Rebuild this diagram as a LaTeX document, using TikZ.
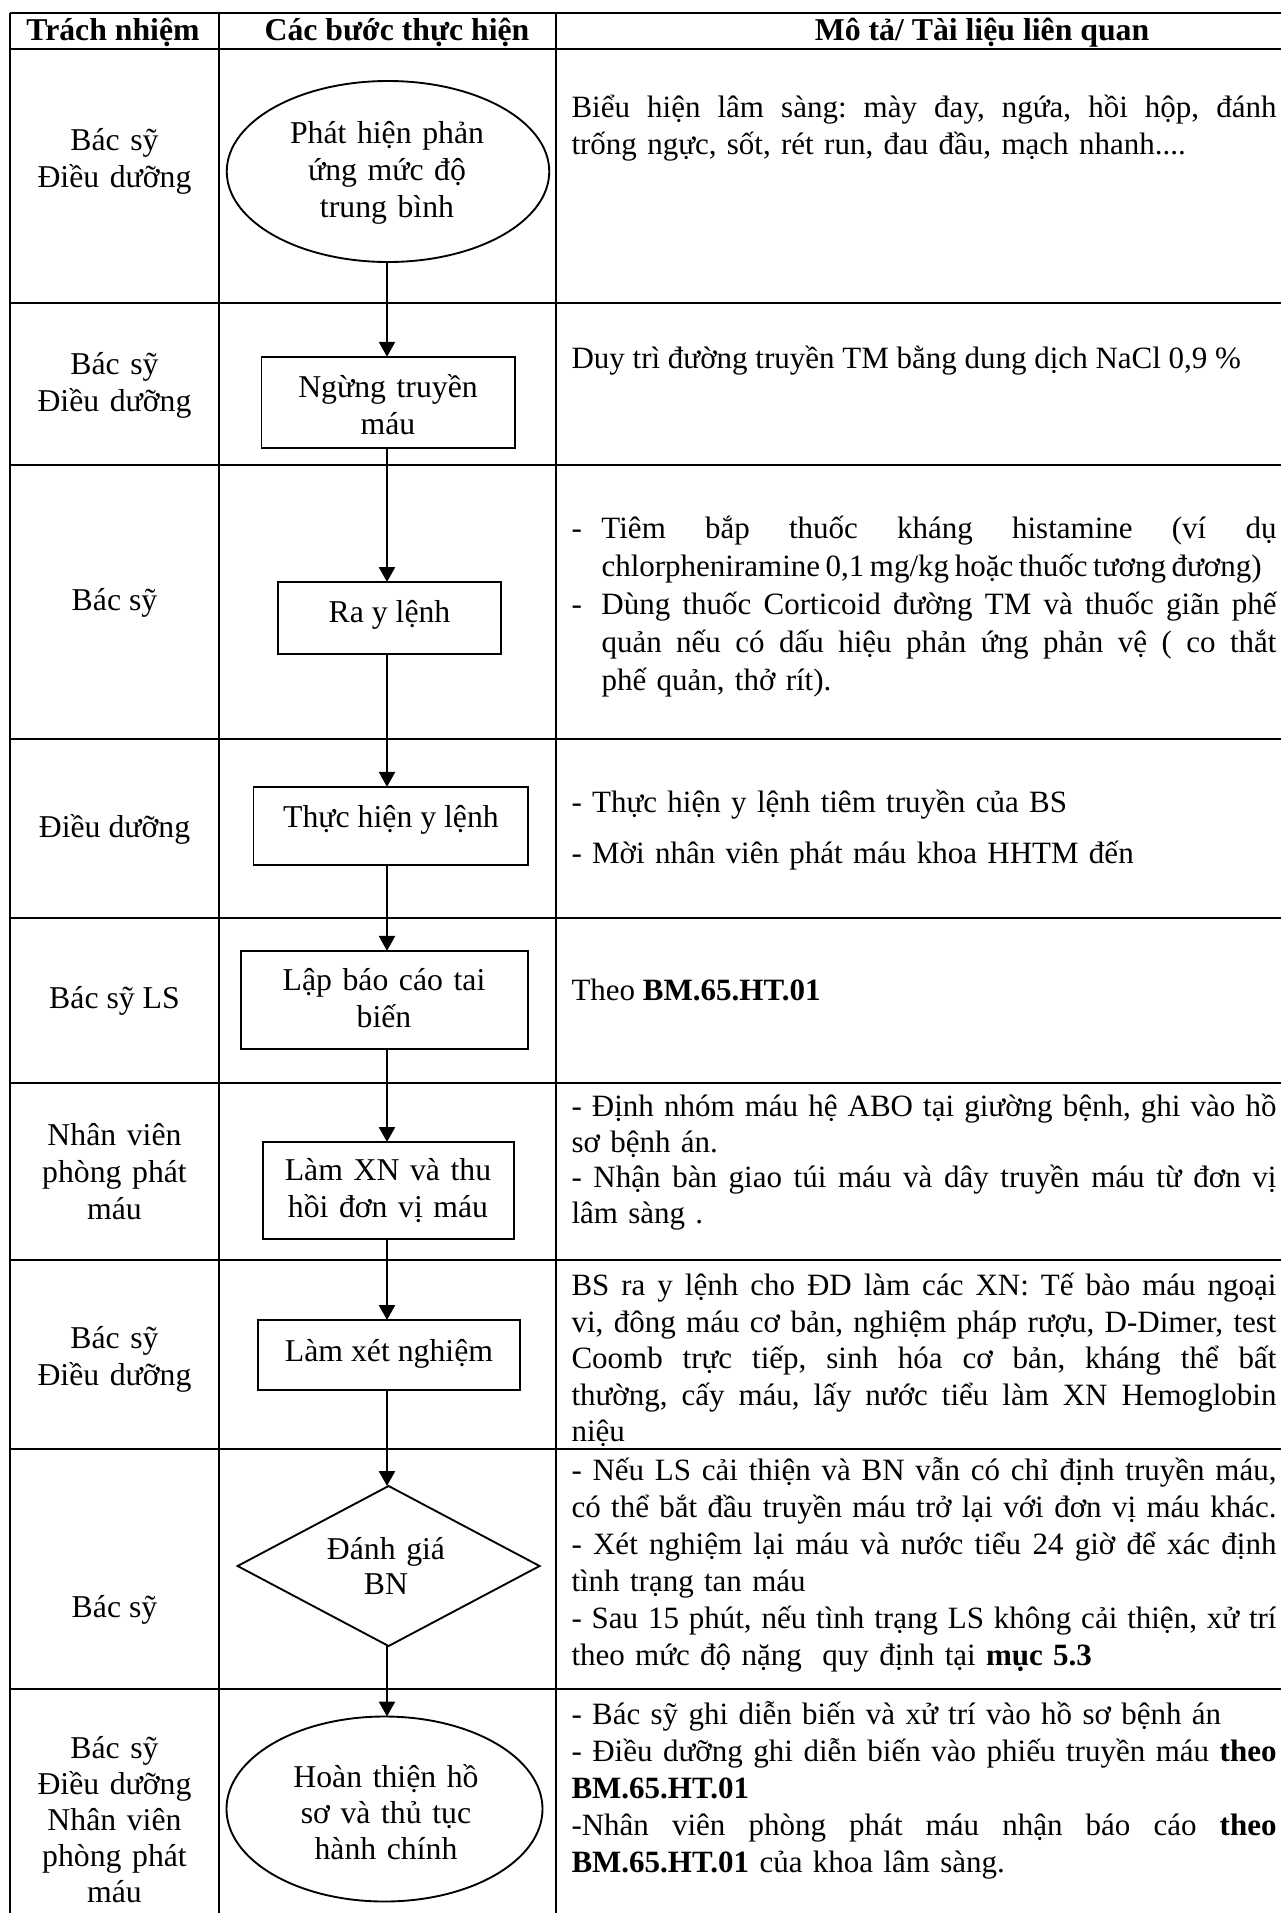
\documentclass[tikz,border=0pt]{standalone}
\usepackage{fontspec}
\setmainfont{Liberation Serif}
\usetikzlibrary{shapes.geometric,arrows.meta}
\setlength\parindent{0pt}
\setlength\parskip{0pt}
\lineskiplimit=-20pt
\hyphenpenalty=10000
\exhyphenpenalty=10000
\frenchspacing
\newlength\cw \setlength\cw{282pt}
\newcommand\st{\rule{0pt}{14pt}}
\def\jsp{\hskip 0.25em plus 1fil minus 0.15em\relax}
\def\jlsplit#1 #2\jlend{#1\ifx\relax#2\relax\else\jsp\jlsplit#2\jlend\fi}
\newcommand\jl[1]{\leavevmode\hbox to\cw{\jlsplit#1 \jlend}}
\newcommand\jlw[2]{\hbox to #1{\jlsplit#2 \jlend}}
\newcommand\bl[1]{\leavevmode\hbox to\cw{\hbox to 12pt{-\hfil}\jlsplit#1 \jlend}}
\newcommand\bc[1]{\leavevmode\hbox{\hskip12pt #1}}
\newcommand\sizeA{\fontsize{12.7}{14.8}\selectfont}
\newcommand\sizeAt{\fontsize{12.7}{14}\selectfont}
\newcommand\sizeAm{\fontsize{12.7}{14.4}\selectfont}
\newcommand\sizeB{\fontsize{12.4}{14.8}\selectfont}
\newcommand\sizeBw{\fontsize{12.4}{15.2}\selectfont}
\newcommand\sizeBt{\fontsize{12.4}{14.2}\selectfont}
\newcommand\sizeBm{\fontsize{12.4}{14.6}\selectfont}
\begin{document}
\begin{tikzpicture}[x=0.4pt,y=-0.4pt,
  tbl/.style={line width=1.1pt},
  shp/.style={draw,line width=0.75pt,inner sep=0pt,outer sep=0pt},
  boxs/.style={shp,rectangle},
  ells/.style={shp,ellipse},
  dias/.style={shp,diamond},
  arr/.style={line width=1pt,-{Triangle[length=6pt,width=6.4pt]}},
  txt/.style={inner sep=0pt,font=\sizeA},
  hdr/.style={inner sep=0pt,anchor=base,font=\sizeA\bfseries},
  one/.style={txt,anchor=base},
  lbl/.style={txt,anchor=north,align=center,text width=110pt},
  desc/.style={inner sep=0pt,font=\sizeB,anchor=north west,align=left,text width=\cw},
  descone/.style={inner sep=0pt,font=\sizeB,anchor=base west}]
\useasboundingbox (0,0) rectangle (1281,1913);
\fill[white] (0,0) rectangle (1281,1913);
% table grid
\foreach \yy in {13,49,303,465,739,918,1083,1260,1449,1689}
  \draw[tbl] (10,\yy) -- (1281,\yy);
\foreach \xx in {10,219,556}
  \draw[tbl] (\xx,13) -- (\xx,1913);
% headers
\node[hdr] (h1) at (113,40) {Trách nhiệm};
\node[hdr] (h2) at (397,40) {Các bước thực hiện};
\node[hdr] (h3) at (982,40) {Mô tả/ Tài liệu liên quan};
% responsibility column
\node[lbl] (r1) at (114.5,115) {\st Bác sỹ\\Điều dưỡng};
\node[lbl] (r2) at (114.5,339) {\st Bác sỹ\\Điều dưỡng};
\node[one] (r3) at (114.5,610) {Bác sỹ};
\node[one] (r4) at (114.5,837) {Điều dưỡng};
\node[one] (r5) at (114.5,1008) {Bác sỹ LS};
\node[lbl] (r6) at (114.5,1110) {\st Nhân viên\\phòng phát\\máu};
\node[lbl] (r7) at (114.5,1313) {\st Bác sỹ\\Điều dưỡng};
\node[one] (r8) at (114.5,1617) {Bác sỹ};
\node[lbl,font=\sizeAm] (r9) at (114.5,1723) {\st Bác sỹ\\Điều dưỡng\\Nhân viên\\phòng phát\\máu};
% flow shapes
\node[ells,minimum width=129pt,minimum height=72.4pt] (e1) at (388,171.5) {};
\node[boxs,minimum width=101.4pt,minimum height=36.5pt] (b2) at (388.3,402.4) {};
\node[boxs,minimum width=89.2pt,minimum height=28.8pt] (b3) at (389.5,618) {};
\node[boxs,minimum width=109.8pt,minimum height=31.3pt] (b4) at (390.7,826) {};
\node[boxs,minimum width=114.8pt,minimum height=39.3pt] (b5) at (384.5,1000) {};
\node[boxs,minimum width=100.4pt,minimum height=38.8pt] (b6) at (388.5,1190.5) {};
\node[boxs,minimum width=104.8pt,minimum height=28pt] (b7) at (389,1355) {};
\node[dias,minimum width=120.8pt,minimum height=64pt] (d8) at (388.6,1566) {};
\node[ells,minimum width=126.4pt,minimum height=74pt] (e9) at (384.5,1809) {};
% flow texts
\node[lbl] (t1) at (387,108) {\st Phát hiện phản\\ứng mức độ\\trung bình};
\node[lbl] (t2) at (388,362) {\st Ngừng truyền\\máu};
\node[one] (t3) at (389.5,622) {Ra y lệnh};
\node[one] (t4) at (391,827) {Thực hiện y lệnh};
\node[lbl] (t5) at (384,955) {\st Lập báo cáo tai\\biến};
\node[lbl] (t6) at (388,1145) {\st Làm XN và thu\\hồi đơn vị máu};
\node[one] (t7) at (389,1361) {Làm xét nghiệm};
\node[lbl,font=\sizeAt] (t8) at (386,1524) {\st Đánh giá\\BN};
\node[lbl,font=\sizeAm] (t9) at (386,1752) {\st Hoàn thiện hồ\\sơ và thủ tục\\hành chính};
% connectors
\coordinate (ax) at (387,0);
\draw[arr] (e1.south -| ax) -- (b2.north -| ax);
\draw[arr] (b2.south -| ax) -- (b3.north -| ax);
\draw[arr] (b3.south -| ax) -- (b4.north -| ax);
\draw[arr] (b4.south -| ax) -- (b5.north -| ax);
\draw[arr] (b5.south -| ax) -- (b6.north -| ax);
\draw[arr] (b6.south -| ax) -- (b7.north -| ax);
\draw[arr] (b7.south -| ax) -- (d8.north -| ax);
\draw[arr] (d8.south -| ax) -- (e9.north -| ax);
% descriptions
\node[desc] (m1) at (571,82) {\st\jl{Biểu hiện lâm sàng: mày đay, ngứa, hồi hộp, đánh}\\trống ngực, sốt, rét run, đau đầu, mạch nhanh....};
\node[descone] (m2) at (571,368) {Duy trì đường truyền TM bằng dung dịch NaCl 0,9 \%};
\node[desc,font=\sizeBw] (m3) at (571,503) {\st\bl{Tiêm bắp thuốc kháng histamine (ví dụ}\\\bc{\jlw{264pt}{chlorpheniramine 0,1 mg/kg hoặc thuốc tương đương)}}\\\bl{Dùng thuốc Corticoid đường TM và thuốc giãn phế}\\\bc{\jlw{270pt}{quản nếu có dấu hiệu phản ứng phản vệ ( co thắt}}\\\bc{phế quản, thở rít).}};
\node[desc] (m4) at (571,777) {\st - Thực hiện y lệnh tiêm truyền của BS\\[5.6pt]- Mời nhân viên phát máu khoa HHTM đến};
\node[descone] (m5) at (571,1000) {Theo \textbf{BM.65.HT.01}};
\node[desc,font=\sizeBt] (m6) at (571,1081) {\st\jl{- Định nhóm máu hệ ABO tại giường bệnh, ghi vào hồ}\\sơ bệnh án.\\\jl{- Nhận bàn giao túi máu và dây truyền máu từ đơn vị}\\lâm sàng .};
\node[desc,font=\sizeBm] (m7) at (571,1260) {\st\jl{BS ra y lệnh cho ĐD làm các XN: Tế bào máu ngoại}\\\jl{vi, đông máu cơ bản, nghiệm pháp rượu, D-Dimer, test}\\\jl{Coomb trực tiếp, sinh hóa cơ bản, kháng thể bất}\\\jl{thường, cấy máu, lấy nước tiểu làm XN Hemoglobin}\\niệu};
\node[desc] (m8) at (571,1445) {\st\jl{- Nếu LS cải thiện và BN vẫn có chỉ định truyền máu,}\\\jl{có thể bắt đầu truyền máu trở lại với đơn vị máu khác.}\\\jl{- Xét nghiệm lại máu và nước tiểu 24 giờ để xác định}\\tình trạng tan máu\\\jl{- Sau 15 phút, nếu tình trạng LS không cải thiện, xử trí}\\theo mức độ nặng\ \ quy định tại \textbf{mục 5.3}};
\node[desc] (m9) at (571,1689) {\st - Bác sỹ ghi diễn biến và xử trí vào hồ sơ bệnh án\\\jl{- Điều dưỡng ghi diễn biến vào phiếu truyền máu \textbf{theo}}\\\textbf{BM.65.HT.01}\\\jl{-Nhân viên phòng phát máu nhận báo cáo \textbf{theo}}\\\textbf{BM.65.HT.01} của khoa lâm sàng.};
\end{tikzpicture}
\end{document}
